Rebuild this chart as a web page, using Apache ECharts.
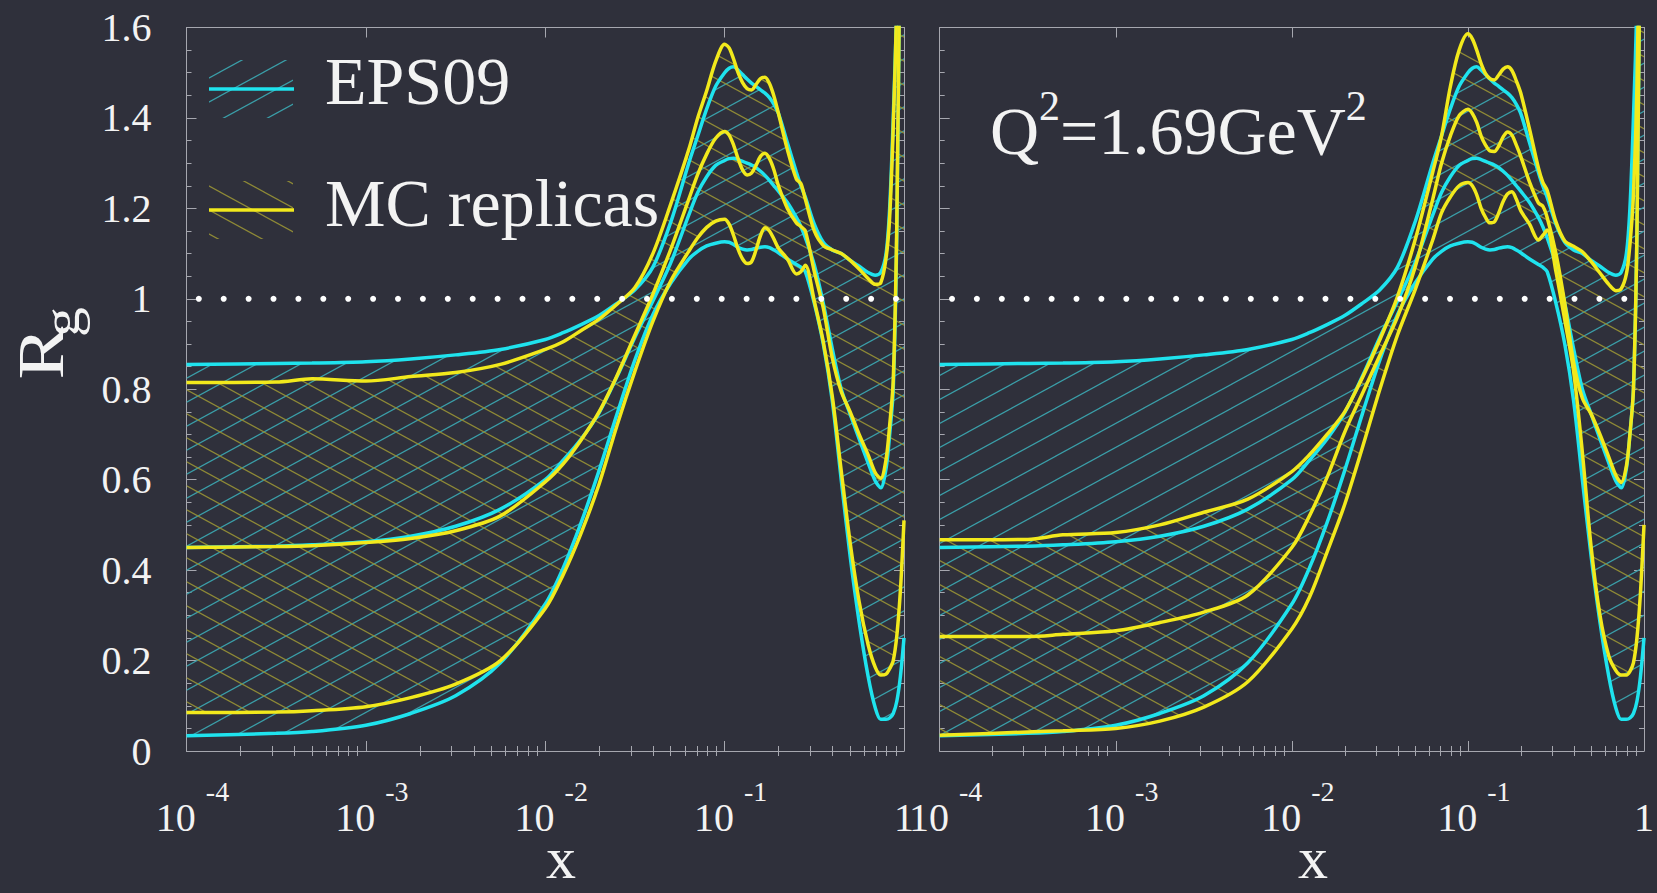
<!DOCTYPE html>
<html><head><meta charset="utf-8">
<script src="https://cdn.jsdelivr.net/npm/echarts@6/dist/echarts.min.js"></script>
<style>html,body{margin:0;padding:0;background:#2f303b;}#c{width:1657px;height:893px;}</style>
</head><body><div id="c"></div>
<script>
// ---------------- data (x given as log10 x) ----------------
const logX = [-4, -3.5, -3.3, -3, -2.75, -2.5, -2.25, -2, -1.9, -1.8, -1.7, -1.6, -1.5, -1.4, -1.3, -1.2, -1.15, -1.1, -1.05, -1, -0.975, -0.95, -0.925, -0.9, -0.875, -0.85, -0.825, -0.8, -0.775, -0.75, -0.725, -0.7, -0.65, -0.6, -0.575, -0.55, -0.5, -0.45, -0.4, -0.35, -0.3, -0.25, -0.2, -0.16, -0.13, -0.1, -0.08, -0.06, -0.04, -0.02, 0];

// EPS09 (same in both panels)
const epsUpper = [0.855, 0.857, 0.858, 0.861, 0.867, 0.876, 0.888, 0.910, 0.925, 0.943, 0.963, 0.990, 1.020, 1.070, 1.170, 1.300, 1.360, 1.420, 1.470, 1.500, 1.510, 1.513, 1.506, 1.496, 1.486, 1.477, 1.470, 1.462, 1.455, 1.445, 1.430, 1.410, 1.345, 1.280, 1.250, 1.225, 1.165, 1.125, 1.108, 1.100, 1.085, 1.072, 1.058, 1.052, 1.058, 1.100, 1.200, 1.400, 1.660, 2.200, 2.800];
const epsCentral = [0.450, 0.453, 0.456, 0.463, 0.475, 0.497, 0.535, 0.600, 0.643, 0.690, 0.748, 0.828, 0.915, 0.995, 1.080, 1.185, 1.235, 1.270, 1.295, 1.306, 1.310, 1.311, 1.308, 1.304, 1.300, 1.296, 1.290, 1.282, 1.273, 1.262, 1.250, 1.238, 1.213, 1.180, 1.160, 1.135, 1.075, 0.990, 0.890, 0.800, 0.745, 0.690, 0.637, 0.597, 0.582, 0.625, 0.700, 0.800, 1.150, 1.900, 2.600];
const epsLower = [0.034, 0.039, 0.043, 0.057, 0.083, 0.122, 0.195, 0.325, 0.405, 0.505, 0.620, 0.745, 0.865, 0.965, 1.035, 1.088, 1.105, 1.117, 1.123, 1.126, 1.125, 1.120, 1.114, 1.110, 1.108, 1.109, 1.112, 1.114, 1.115, 1.113, 1.108, 1.102, 1.088, 1.076, 1.070, 1.060, 0.990, 0.900, 0.775, 0.600, 0.430, 0.285, 0.165, 0.095, 0.070, 0.070, 0.073, 0.083, 0.110, 0.165, 0.250];

// MC replicas, left panel
const mcLeftUpper = [0.815, 0.816, 0.823, 0.818, 0.828, 0.837, 0.855, 0.888, 0.905, 0.930, 0.955, 0.988, 1.025, 1.100, 1.210, 1.330, 1.400, 1.460, 1.525, 1.563, 1.555, 1.530, 1.500, 1.478, 1.465, 1.462, 1.474, 1.487, 1.490, 1.476, 1.448, 1.410, 1.330, 1.265, 1.255, 1.220, 1.150, 1.118, 1.108, 1.100, 1.085, 1.066, 1.045, 1.032, 1.035, 1.090, 1.180, 1.380, 1.660, 2.200, 2.800];
const mcLeftCentral = [0.450, 0.452, 0.454, 0.461, 0.470, 0.487, 0.520, 0.595, 0.635, 0.688, 0.750, 0.830, 0.920, 1.010, 1.110, 1.220, 1.275, 1.320, 1.355, 1.370, 1.362, 1.340, 1.310, 1.285, 1.274, 1.278, 1.295, 1.315, 1.322, 1.310, 1.285, 1.250, 1.200, 1.168, 1.160, 1.150, 1.060, 0.980, 0.870, 0.795, 0.750, 0.700, 0.655, 0.615, 0.603, 0.645, 0.720, 0.820, 1.170, 1.900, 2.600];
const mcLeftLower = [0.085, 0.086, 0.089, 0.098, 0.118, 0.148, 0.200, 0.315, 0.390, 0.482, 0.590, 0.720, 0.840, 0.950, 1.040, 1.105, 1.135, 1.158, 1.172, 1.176, 1.165, 1.140, 1.110, 1.088, 1.078, 1.082, 1.108, 1.140, 1.157, 1.150, 1.132, 1.112, 1.088, 1.055, 1.060, 1.074, 0.995, 0.905, 0.785, 0.620, 0.460, 0.330, 0.235, 0.185, 0.168, 0.170, 0.182, 0.200, 0.255, 0.355, 0.510];

// MC replicas, right panel
const mcRightUpper = [0.467, 0.468, 0.478, 0.483, 0.500, 0.528, 0.557, 0.618, 0.655, 0.700, 0.750, 0.825, 0.910, 1.005, 1.130, 1.280, 1.360, 1.469, 1.550, 1.586, 1.575, 1.550, 1.520, 1.498, 1.487, 1.484, 1.495, 1.508, 1.513, 1.505, 1.482, 1.455, 1.375, 1.290, 1.258, 1.240, 1.170, 1.128, 1.116, 1.104, 1.082, 1.057, 1.032, 1.018, 1.022, 1.055, 1.120, 1.230, 1.470, 2.000, 2.800];
const mcRightCentral = [0.253, 0.253, 0.258, 0.266, 0.284, 0.307, 0.345, 0.450, 0.520, 0.605, 0.705, 0.790, 0.875, 0.960, 1.070, 1.220, 1.300, 1.360, 1.405, 1.419, 1.410, 1.390, 1.360, 1.340, 1.327, 1.326, 1.338, 1.358, 1.369, 1.362, 1.340, 1.315, 1.258, 1.212, 1.205, 1.180, 1.100, 0.990, 0.860, 0.780, 0.745, 0.700, 0.650, 0.610, 0.594, 0.630, 0.700, 0.800, 1.150, 1.900, 2.600];
const mcRightLower = [0.035, 0.042, 0.045, 0.050, 0.066, 0.097, 0.153, 0.270, 0.340, 0.440, 0.545, 0.670, 0.800, 0.920, 1.020, 1.130, 1.190, 1.225, 1.250, 1.257, 1.250, 1.230, 1.200, 1.180, 1.168, 1.170, 1.190, 1.215, 1.232, 1.237, 1.220, 1.195, 1.165, 1.130, 1.140, 1.152, 1.060, 0.953, 0.840, 0.660, 0.450, 0.300, 0.210, 0.178, 0.168, 0.168, 0.176, 0.195, 0.250, 0.350, 0.500];

const xDecades = [-4, -3, -2, -1, 0];
const refLevel = 1;
const legendNames = ['EPS09', 'MC replicas'];
const yName = ['R', 'g'];
const xName = 'x';
const panelNote = ['Q', '2', '=1.69GeV', '2'];

// ---------------- styles ----------------
const FONT = '"Liberation Serif","Times New Roman",serif';
const CYAN = '#1fe3ee', YEL = '#f2e91c', HC = '#3a9fa9', HY = '#8f8a36';
const AX = '#a6a7af', TXT = '#f3f3f3', BG = '#2f303b';
const SMOOTH = 0.3;
const LW = 3.5;
const DOT_GAP = 24.9, DOT_START = 12.3, DOT_R = 3;
const GRID = [{left: 186.5, top: 27.5, width: 717.5, height: 723.5},
              {left: 939.7, top: 27.5, width: 717.5, height: 723.5}];

function hatch(color, rising) {
  const W = 44, H = 24, c = document.createElement('canvas');
  c.width = W; c.height = H;
  const g = c.getContext('2d');
  g.strokeStyle = color; g.lineWidth = 1.2;
  for (let k = -1; k <= 1; k++) {
    g.beginPath();
    if (rising) { g.moveTo(-W, 2 * H + k * H); g.lineTo(2 * W, -H + k * H); }
    else { g.moveTo(-W, -H + k * H); g.lineTo(2 * W, 2 * H + k * H); }
    g.stroke();
  }
  return {image: c, repeat: 'repeat', imageWidth: W, imageHeight: H};
}
const patC = hatch(HC, true), patY = hatch(HY, false);

const minorTicks = [];
for (let d = -4; d < 0; d++) for (let k = 2; k <= 9; k++) minorTicks.push(d + Math.log10(k));

const zip = arr => logX.map((v, i) => [v, arr[i]]);

// smooth chain path (same construction as echarts line smoothing)
function chain(points, smooth, first) {
  let d = '', prevX, prevY, cpx0, cpy0, cpx1, cpy1;
  const n = points.length;
  for (let i = 0; i < n; i++) {
    const x = points[i][0], y = points[i][1];
    if (i === 0) { d += (first ? 'M' : 'L') + x + ' ' + y; cpx0 = x; cpy0 = y; }
    else {
      let nextCpx0, nextCpy0;
      if (i + 1 >= n) { cpx1 = x; cpy1 = y; }
      else {
        const nextX = points[i + 1][0], nextY = points[i + 1][1];
        let vx = nextX - prevX, vy = nextY - prevY;
        const dx0 = x - prevX, dx1 = nextX - x, dy0 = y - prevY, dy1 = nextY - y;
        const l0 = Math.sqrt(dx0 * dx0 + dy0 * dy0), l1 = Math.sqrt(dx1 * dx1 + dy1 * dy1);
        const r = l1 / (l1 + l0);
        nextCpx0 = x + vx * smooth * r; nextCpy0 = y + vy * smooth * r;
        nextCpx0 = Math.min(nextCpx0, Math.max(nextX, x)); nextCpy0 = Math.min(nextCpy0, Math.max(nextY, y));
        nextCpx0 = Math.max(nextCpx0, Math.min(nextX, x)); nextCpy0 = Math.max(nextCpy0, Math.min(nextY, y));
        vx = nextCpx0 - x; vy = nextCpy0 - y;
        cpx1 = x - vx * l0 / l1; cpy1 = y - vy * l0 / l1;
        cpx1 = Math.min(cpx1, Math.max(prevX, x)); cpy1 = Math.min(cpy1, Math.max(prevY, y));
        cpx1 = Math.max(cpx1, Math.min(prevX, x)); cpy1 = Math.max(cpy1, Math.min(prevY, y));
        vx = x - cpx1; vy = y - cpy1;
        nextCpx0 = x + vx * l1 / l0; nextCpy0 = y + vy * l1 / l0;
      }
      d += 'C' + cpx0 + ' ' + cpy0 + ' ' + cpx1 + ' ' + cpy1 + ' ' + x + ' ' + y;
      cpx0 = nextCpx0; cpy0 = nextCpy0;
    }
    prevX = x; prevY = y;
  }
  return d;
}

function band(p, up, lo, pat) {
  return {
    type: 'custom', coordinateSystem: 'cartesian2d', xAxisIndex: p * 4, yAxisIndex: p * 2,
    silent: true, z: 1, data: [[-4, 0]],
    renderItem(params, api) {
      const top = logX.map((v, i) => api.coord([v, up[i]]));
      const bot = logX.map((v, i) => api.coord([v, lo[i]])).reverse();
      const cs = params.coordSys;
      return {
        type: 'path', shape: {pathData: chain(top, SMOOTH, true) + chain(bot, SMOOTH, false) + 'Z'},
        style: {fill: pat, stroke: null},
        clipPath: {type: 'rect', shape: {x: cs.x, y: cs.y, width: cs.width, height: cs.height}}
      };
    }
  };
}

function line(p, arr, color, z) {
  return {type: 'line', xAxisIndex: p * 4, yAxisIndex: p * 2, data: zip(arr), symbol: 'none',
    smooth: SMOOTH, silent: true, z: z, lineStyle: {color: color, width: LW}};
}

// dotted reference level: a row of round dots between the two ends of the level line
function refLine(p) {
  return {
    type: 'custom', coordinateSystem: 'cartesian2d', xAxisIndex: p * 4, yAxisIndex: p * 2,
    silent: true, z: 30, data: [[-4, refLevel]],
    renderItem(params, api) {
      const a = api.coord([xDecades[0], refLevel]);
      const b = api.coord([xDecades[xDecades.length - 1], refLevel]);
      const children = [];
      for (let x = a[0] + DOT_START; x < b[0]; x += DOT_GAP) {
        children.push({type: 'circle', shape: {cx: x, cy: a[1], r: DOT_R}, style: {fill: '#ffffff'}});
      }
      return {type: 'group', children: children};
    }
  };
}

const tickRich = {
  b: {fontSize: 40, fontFamily: FONT, color: TXT, lineHeight: 60, verticalAlign: 'bottom', padding: [0, 0, 0, 12]},
  one: {fontSize: 40, fontFamily: FONT, color: TXT, lineHeight: 60, verticalAlign: 'bottom'},
  s: {fontSize: 28, fontFamily: FONT, color: TXT, lineHeight: 20, verticalAlign: 'top', padding: [0, 0, 0, 10]}
};

function xAxes(p) {
  const base = {gridIndex: p, type: 'value', min: -4, max: 0, interval: 1, splitLine: {show: false},
    axisLine: {show: true, onZero: false, lineStyle: {color: AX, width: 1}}};
  const major = {show: true, inside: true, length: 10, lineStyle: {color: AX, width: 1}, customValues: xDecades};
  const minor = {show: true, inside: true, length: 5, lineStyle: {color: AX, width: 1}, customValues: minorTicks};
  return [
    Object.assign({}, base, {position: 'bottom', axisTick: major,
      axisLabel: {show: true, customValues: xDecades, margin: 26.5, rich: tickRich,
        formatter: v => { const e = Math.round(v); return e === 0 ? '{one|1}' : '{b|10}{s|' + e + '}'; }}}),
    Object.assign({}, base, {position: 'bottom', axisLine: {show: false}, axisTick: minor, axisLabel: {show: false}}),
    Object.assign({}, base, {position: 'top', axisTick: major, axisLabel: {show: false}}),
    Object.assign({}, base, {position: 'top', axisLine: {show: false}, axisTick: minor, axisLabel: {show: false}})
  ];
}
function yAxes(p) {
  const base = {gridIndex: p, type: 'value', min: 0, max: 1.6, interval: 0.2, splitLine: {show: false},
    axisLine: {show: true, onZero: false, lineStyle: {color: AX, width: 1}},
    axisTick: {show: true, inside: true, length: 10, lineStyle: {color: AX, width: 1}},
    minorTick: {show: true, splitNumber: 4, length: 5, lineStyle: {color: AX, width: 1}}};
  return [
    Object.assign({}, base, {position: 'left',
      axisLabel: {show: p === 0, fontSize: 40, fontFamily: FONT, color: TXT, margin: 35}}),
    Object.assign({}, base, {position: 'right', axisLabel: {show: false}})
  ];
}

const series = [];
const mcSets = [[mcLeftUpper, mcLeftCentral, mcLeftLower], [mcRightUpper, mcRightCentral, mcRightLower]];
for (let p = 0; p < 2; p++) {
  const [mu, mc, ml] = mcSets[p];
  series.push(band(p, epsUpper, epsLower, patC));
  series.push(band(p, mu, ml, patY));
  series.push(line(p, epsUpper, CYAN, 3), line(p, epsCentral, CYAN, 3), line(p, epsLower, CYAN, 3));
  series.push(line(p, mu, YEL, 4), line(p, mc, YEL, 4), line(p, ml, YEL, 4));
  series.push(refLine(p));
}

const txt = (extra) => Object.assign({fill: TXT, fontFamily: FONT}, extra);
const option = {
  backgroundColor: BG,
  animation: false,
  grid: GRID,
  xAxis: xAxes(0).concat(xAxes(1)),
  yAxis: yAxes(0).concat(yAxes(1)),
  series: series,
  graphic: [
    {type: 'rect', shape: {x: 209, y: 60, width: 84, height: 58}, style: {fill: patC}, z: 20},
    {type: 'line', shape: {x1: 209, y1: 89, x2: 294, y2: 89}, style: {stroke: CYAN, lineWidth: LW}, z: 21},
    {type: 'text', x: 325, y: 81, z: 21, style: txt({text: legendNames[0], fontSize: 68, align: 'left', verticalAlign: 'middle'})},
    {type: 'rect', shape: {x: 209, y: 181, width: 84, height: 58}, style: {fill: patY}, z: 20},
    {type: 'line', shape: {x1: 209, y1: 210, x2: 294, y2: 210}, style: {stroke: YEL, lineWidth: LW}, z: 21},
    {type: 'text', x: 325, y: 203, z: 21, style: txt({text: legendNames[1], fontSize: 68, align: 'left', verticalAlign: 'middle'})},
    {type: 'text', x: 990, y: 125, z: 21, style: txt({
      text: '{a|' + panelNote[0] + '}{s|' + panelNote[1] + '}{a|' + panelNote[2] + '}{s|' + panelNote[3] + '}',
      align: 'left', verticalAlign: 'middle',
      rich: {a: {fontSize: 68, fontFamily: FONT, fill: TXT, lineHeight: 80, verticalAlign: 'bottom'},
             s: {fontSize: 42, fontFamily: FONT, fill: TXT, lineHeight: 36, verticalAlign: 'top'}}})},
    {type: 'text', x: 561, y: 858, z: 21, style: txt({text: xName, fontSize: 60, align: 'center', verticalAlign: 'middle'})},
    {type: 'text', x: 1313, y: 858, z: 21, style: txt({text: xName, fontSize: 60, align: 'center', verticalAlign: 'middle'})},
    {type: 'text', x: 40.7, y: 353, rotation: Math.PI / 2, scaleX: 1.2, z: 21,
      style: txt({text: yName[0], fontSize: 66, align: 'center', verticalAlign: 'middle'})},
    {type: 'text', x: 61.2, y: 322, rotation: Math.PI / 2, scaleX: 1.15, z: 21,
      style: txt({text: yName[1], fontSize: 52, align: 'center', verticalAlign: 'middle'})}
  ]
};
const chart = echarts.init(document.getElementById('c'), null, {renderer: 'svg', width: 1657, height: 893});
chart.setOption(option);
</script>
</body></html>
